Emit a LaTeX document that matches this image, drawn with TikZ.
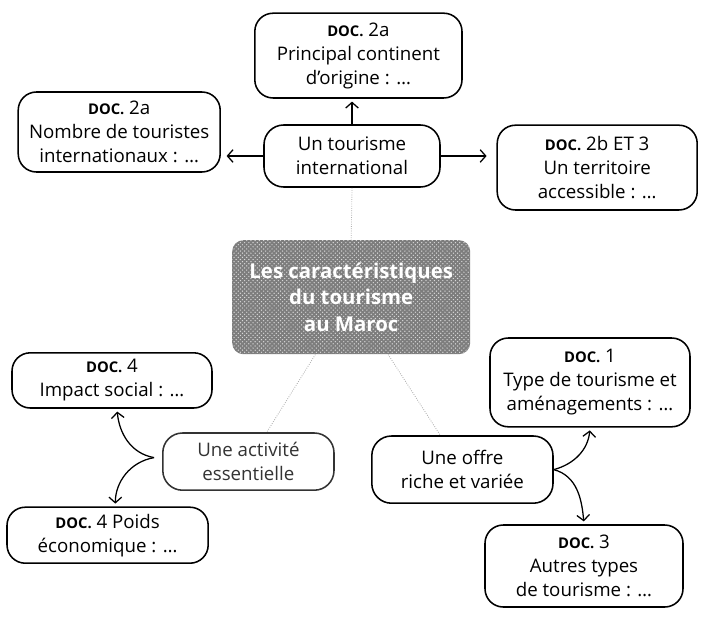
\documentclass[tikz,border=0pt]{standalone}
\usepackage{fontspec}
\setmainfont{Open Sans}
\usepackage{tikz}
\usetikzlibrary{arrows.meta,positioning,calc,patterns}
\definecolor{mapgrey}{RGB}{125,125,125}
\definecolor{linkgrey}{RGB}{175,175,175}
\newcommand{\docref}[1]{{\fontsize{10.5}{12}\selectfont\bfseries DOC.}~#1}

\begin{document}
\begin{tikzpicture}[
    docbox/.style={draw, line width=1.1pt, rounded corners=13pt, align=center,
        inner sep=2pt, font=\fontsize{13.3}{17}\selectfont},
    hubbox/.style={docbox, rounded corners=14pt},
    centrebox/.style={fill=mapgrey, rounded corners=8pt, align=center, text=white,
        font=\fontsize{14.5}{19}\selectfont\bfseries,
        postaction={pattern=crosshatch dots, pattern color=white!85!black}},
    arr/.style={line width=0.9pt, -{Straight Barb[length=4pt,width=9pt]}},
    faint/.style={draw=linkgrey, densely dotted, line width=0.6pt}
]
\useasboundingbox (0,0) rectangle (17.675,-15.45);

% centre
\node[centrebox, minimum width=5.95cm, minimum height=2.85cm] (centre) at (8.78,-7.43)
    {Les caractéristiques\\du tourisme\\au Maroc};

% top branch
\node[hubbox, minimum width=4.4cm, minimum height=1.55cm] (intl) at (8.8,-3.9)
    {Un tourisme\\international};
\node[docbox, minimum width=5.18cm, minimum height=2.12cm] (origine) at (8.96,-1.39)
    {\docref{2a}\\Principal continent\\d’origine : \dots};
\node[docbox, minimum width=5.05cm, minimum height=2.0cm] (nombre) at (2.98,-3.3)
    {\docref{2a}\\Nombre de touristes\\internationaux : \dots};
\node[docbox, minimum width=5.0cm, minimum height=2.12cm] (territoire) at (14.93,-4.19)
    {\docref{2b ET 3}\\Un territoire\\accessible : \dots};

\draw[arr, shorten >=2pt] (intl.north) -- (origine.south -| intl.north);
\draw[arr, shorten >=4pt] (intl.west) -- (nombre.east |- intl.west);
\draw[arr, shorten >=7pt] (intl.east) -- (territoire.west |- intl.east);

% left branch
\node[hubbox, draw=black!80, text=black!80, minimum width=4.28cm, minimum height=1.43cm] (act) at (6.21,-11.54)
    {Une activité\\essentielle};
\node[docbox, minimum width=5.0cm, minimum height=1.38cm] (impact) at (2.8,-9.51)
    {\docref{4}\\Impact social : \dots};
\node[docbox, minimum width=5.03cm, minimum height=1.4cm] (poids) at (2.69,-13.38)
    {\docref{4 Poids}\\économique : \dots};

\coordinate (actfork) at ($(act.west)+(-0.2,0.1)$);
\draw[arr, shorten >=2pt] (actfork) to[out=170, in=-85] (impact.-80);
\draw[arr, shorten >=2pt] (actfork) to[out=190, in=90] (poids.75);

% right branch
\node[hubbox, minimum width=4.53cm, minimum height=1.68cm] (offre) at (11.56,-11.74)
    {Une offre\\riche et variée};
\node[docbox, minimum width=5.0cm, minimum height=2.22cm] (doc1) at (14.75,-9.56)
    {\docref{1}\\Type de tourisme et\\aménagements : \dots};
\node[docbox, minimum width=4.95cm, minimum height=2.05cm] (doc3) at (14.6,-14.15)
    {\docref{3}\\Autres types\\de tourisme : \dots};

\draw[arr, shorten >=2pt] (offre.east) to[out=15, in=-95] (doc1.south);
\draw[arr, shorten >=2pt] (offre.east) to[out=-15, in=95] (doc3.north);

% faint links to the centre
\draw[faint] (intl.south) -- (centre.north);
\draw[faint] (centre) -- (act);
\draw[faint] (centre) -- (offre);
\end{tikzpicture}
\end{document}
